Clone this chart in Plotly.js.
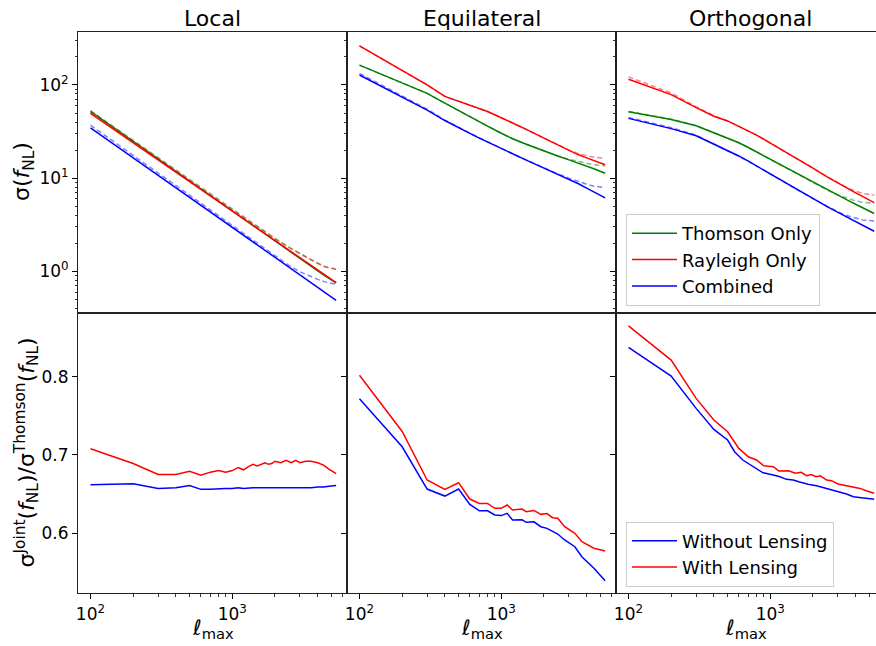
<!DOCTYPE html>
<html>
<head>
<meta charset="utf-8">
<script src="https://cdn.plot.ly/plotly-3.0.1.min.js"></script>
<style>html,body{margin:0;padding:0;background:#fff}#plot{width:876px;height:646px}</style>
</head>
<body>
<div id="plot"></div>
<script>
// ---------- data ----------
const topEll = [100,200,300,400,500,600,700,800,1000,1200,1500,2000,2500,3000,3500,4000,4500,5400];

const locThom  = [52, 24.8, 16.1, 11.8, 9.32, 7.67, 6.51, 5.64, 4.45, 3.66, 2.88, 2.12, 1.67, 1.376, 1.167, 1.01, 0.892, 0.75];
const locRay   = [49.6, 23.9, 15.6, 11.5, 9.09, 7.51, 6.38, 5.54, 4.38, 3.61, 2.86, 2.11, 1.67, 1.376, 1.17, 1.016, 0.899, 0.755];
const locComb  = [34.7, 16.5, 10.67, 7.83, 6.16, 5.07, 4.30, 3.72, 2.93, 2.41, 1.89, 1.39, 1.095, 0.90, 0.763, 0.661, 0.583, 0.489];
const locThomL = [53, 25.5, 16.6, 12.2, 9.6, 7.95, 6.75, 5.85, 4.62, 3.82, 3.02, 2.25, 1.82, 1.55, 1.36, 1.22, 1.12, 1.05];
const locRayL  = [51, 25, 16.3, 12.0, 9.45, 7.85, 6.67, 5.78, 4.57, 3.79, 3.0, 2.24, 1.81, 1.54, 1.355, 1.22, 1.12, 1.05];
const locCombL = [37, 17.5, 11.3, 8.3, 6.5, 5.36, 4.55, 3.94, 3.1, 2.55, 2.0, 1.45, 1.16, 0.99, 0.89, 0.82, 0.77, 0.726];

const eqThom  = [163, 105, 81.3, 63.8, 52.9, 45.7, 40.3, 36.2, 30.3, 26.5, 23.1, 19.5, 17.3, 15.7, 14.5, 13.4, 12.6, 11.3];
const eqRay   = [263, 143, 100, 75.3, 67, 61, 56.3, 51.9, 44.5, 39.3, 33.4, 26.9, 22.7, 19.9, 17.8, 16.5, 15.5, 13.9];
const eqComb  = [128, 74, 53.8, 41.5, 34.5, 30.2, 26.9, 24.4, 20.7, 18.2, 15.6, 12.8, 11.0, 9.75, 8.71, 7.82, 7.11, 6.13];
const eqThomL = [163, 105, 81.3, 63.8, 52.9, 45.7, 40.3, 36.2, 30.3, 26.5, 23.1, 19.5, 17.3, 15.9, 15.0, 14.3, 13.9, 13.6];
const eqRayL  = [263, 143, 100, 75.3, 67, 61, 56.3, 51.9, 44.5, 39.3, 33.4, 26.9, 22.7, 20.0, 18.3, 17.4, 16.8, 16.3];
const eqCombL = [133, 76, 55, 42, 34.8, 30.4, 27.1, 24.5, 20.8, 18.3, 15.7, 12.9, 11.1, 10.0, 9.2, 8.6, 8.2, 7.9];

const orThom  = [51.6, 42.6, 36.5, 30.7, 26.8, 24.0, 21.3, 19.1, 15.8, 13.6, 11.4, 9.0, 7.48, 6.52, 5.80, 5.24, 4.79, 4.17];
const orRay   = [115, 78.7, 57.2, 46.2, 41.1, 36.1, 32.2, 29.0, 23.8, 20.3, 16.6, 12.8, 10.4, 8.83, 7.71, 6.94, 6.32, 5.47];
const orComb  = [43.8, 34.0, 28.5, 23.2, 19.8, 17.3, 15.2, 13.5, 11.0, 9.38, 7.73, 6.03, 4.97, 4.29, 3.80, 3.42, 3.11, 2.69];
const orThomL = [52, 43, 36.8, 30.9, 26.9, 24.0, 21.3, 19.1, 15.8, 13.6, 11.4, 9.0, 7.5, 6.6, 6.05, 5.7, 5.5, 5.37];
const orRayL  = [122, 82, 58.5, 46.8, 41.1, 36.1, 32.2, 29.0, 23.8, 20.3, 16.6, 12.8, 10.4, 8.83, 7.85, 7.25, 6.85, 6.6];
const orCombL = [44.8, 34.8, 29, 23.4, 19.9, 17.3, 15.2, 13.5, 11.0, 9.38, 7.73, 6.03, 4.99, 4.35, 3.95, 3.7, 3.55, 3.47];

const locRatioEll = [100,200,300,400,500,600,700,800,900,1000,1100,1200,1300,1400,1500,1600,1700,1800,1900,2000,2200,2400,2600,2800,3000,3300,3600,4000,4400,4800,5400];
const locNoLens = [.662,.663,.657,.658,.661,.656,.656,.657,.657,.657,.658,.657,.658,.658,.658,.658,.658,.658,.658,.658,.658,.658,.658,.658,.658,.658,.658,.659,.659,.660,.661];
const locLens   = [.708,.689,.675,.675,.679,.674,.678,.680,.678,.680,.684,.681,.685,.688,.686,.688,.690,.688,.689,.692,.690,.693,.690,.693,.690,.692,.692,.690,.687,.682,.676];

const eqRatioEll = [100,200,300,400,500,600,700,800,900,1000,1100,1200,1400,1500,1700,1900,2100,2300,2500,2800,3300,3700,4500,5400];
const eqLens   = [.802,.730,.668,.656,.6645,.6436,.638,.638,.6317,.6317,.636,.6295,.6308,.6274,.629,.624,.625,.6197,.619,.6082,.5997,.589,.5806,.5771];
const eqNoLens = [.772,.7105,.6564,.6474,.6564,.6368,.6286,.6286,.6232,.6224,.6253,.6167,.617,.6138,.6145,.6082,.6061,.6018,.5988,.5912,.5826,.5698,.555,.5391];

const orLensEll = [100,200,300,400,500,600,700,800,900,1050,1150,1350,1500,1650,1800,1950,2100,2250,2500,2700,3000,3450,3850,4300,4750,5400];
const orLens    = [.8652,.8214,.7724,.7446,.7297,.7084,.6977,.6935,.6862,.6849,.6794,.6798,.6765,.6777,.6734,.675,.6721,.6734,.6679,.6671,.6628,.6606,.6593,.6572,.6542,.6509];
const orNoLensEll = [100,200,300,400,500,560,640,760,890,1050,1170,1300,1450,1610,1850,2120,2490,2930,3450,3850,4300,5400];
const orNoLens    = [.8376,.8009,.7596,.7327,.7191,.7041,.6935,.6849,.6772,.6743,.6721,.6688,.6679,.6653,.6624,.6606,.6572,.6538,.65,.6465,.6457,.6432];

const colTitles = ['Local', 'Equilateral', 'Orthogonal'];
const topNames = ['Thomson Only', 'Rayleigh Only', 'Combined'];
const botNames = ['Without Lensing', 'With Lensing'];

// ---------- styling / layout ----------
const W = 876, H = 646;
const fx = p => p / W, fy = p => 1 - p / H;
const GREEN = '#008000', RED = '#ff0000', BLUE = '#0000ff';
const FONT = 'DejaVu Sans, sans-serif';
const LW = 1.5;

const traces = [];
function solid(x, y, color, xa, ya, name, legend, show) {
  traces.push({x, y, type: 'scatter', mode: 'lines', xaxis: xa, yaxis: ya, name,
    line: {color, width: LW}, showlegend: !!show, legend: legend || 'legend', hoverinfo: 'skip'});
}
function dashed(x, y, color, xa, ya) {
  traces.push({x, y, type: 'scatter', mode: 'lines', xaxis: xa, yaxis: ya,
    line: {color, width: LW, dash: '5px,3px'}, opacity: 0.5, showlegend: false, hoverinfo: 'skip'});
}

const topSets = [
  [locThom, locRay, locComb, locThomL, locRayL, locCombL],
  [eqThom, eqRay, eqComb, eqThomL, eqRayL, eqCombL],
  [orThom, orRay, orComb, orThomL, orRayL, orCombL]
];
topSets.forEach((s, i) => {
  const xa = 'x' + (i + 1), ya = 'y' + (i + 1);
  const show = i === 2;
  solid(topEll, s[0], GREEN, xa, ya, topNames[0], 'legend', show);
  solid(topEll, s[1], RED, xa, ya, topNames[1], 'legend', show);
  solid(topEll, s[2], BLUE, xa, ya, topNames[2], 'legend', show);
  dashed(topEll, s[3], GREEN, xa, ya);
  dashed(topEll, s[4], RED, xa, ya);
  dashed(topEll, s[5], BLUE, xa, ya);
});
solid(locRatioEll, locNoLens, BLUE, 'x4', 'y4', botNames[0], 'legend2', false);
solid(locRatioEll, locLens, RED, 'x4', 'y4', botNames[1], 'legend2', false);
solid(eqRatioEll, eqNoLens, BLUE, 'x5', 'y5', botNames[0], 'legend2', false);
solid(eqRatioEll, eqLens, RED, 'x5', 'y5', botNames[1], 'legend2', false);
solid(orNoLensEll, orNoLens, BLUE, 'x6', 'y6', botNames[0], 'legend2', true);
solid(orLensEll, orLens, RED, 'x6', 'y6', botNames[1], 'legend2', true);

const colPx = [[78, 347], [347, 616], [616, 876]];
const XR = [1.912, 3.809];
const xRanges = [XR, XR, [1.912, 1.912 + 260 / 141.8]];
const yTopDom = [fy(312.7), fy(32.3)], yBotDom = [fy(593.3), fy(312.7)];
const tickFont = {family: FONT, size: 17, color: '#000'};
const xMinor = [200,300,400,500,600,700,800,900,2000,3000,4000,5000,6000];
const yMinor = [0.4,0.5,0.6,0.7,0.8,0.9,2,3,4,5,6,7,8,9,20,30,40,50,60,70,80,90,200,300];
const legFont = {family: FONT, size: 18, color: '#000'};

const layout = {
  width: W, height: H, margin: {l: 0, r: 0, t: 0, b: 0}, paper_bgcolor: '#fff', plot_bgcolor: '#fff',
  font: {family: FONT, color: '#000'},
  annotations: [],
  legend: {x: fx(626), y: fy(260), xanchor: 'left', yanchor: 'middle', bgcolor: 'rgba(255,255,255,0.85)',
    bordercolor: '#cccccc', borderwidth: 1, font: legFont, traceorder: 'normal', itemwidth: 45},
  legend2: {x: fx(626), y: fy(554), xanchor: 'left', yanchor: 'middle', bgcolor: 'rgba(255,255,255,0.85)',
    bordercolor: '#cccccc', borderwidth: 1, font: legFont, traceorder: 'normal', itemwidth: 45}
};

for (let c = 0; c < 3; c++) {
  const dom = [fx(colPx[c][0]), fx(colPx[c][1])];
  const common = {type: 'log', domain: dom, range: xRanges[c], showline: true, mirror: true, linecolor: '#222', linewidth: 1,
    showgrid: false, zeroline: false, automargin: false, fixedrange: true};
  layout['xaxis' + (c + 1)] = Object.assign({}, common, {anchor: 'y' + (c + 1), showticklabels: false, ticks: ''});
  layout['xaxis' + (c + 4)] = Object.assign({}, common, {anchor: 'y' + (c + 4), tickmode: 'array',
    tickvals: [100, 1000, 10000], ticktext: ['10<sup>2</sup>', '10<sup>3</sup>', '10<sup>4</sup>'],
    ticks: 'outside', ticklen: 5, tickwidth: 1, tickcolor: '#000', tickfont: tickFont,
    minor: {tickmode: 'array', tickvals: xMinor, ticks: 'outside', ticklen: 2.5, tickwidth: 0.8, tickcolor: '#000'}});
  layout['yaxis' + (c + 1)] = {type: 'log', domain: yTopDom, anchor: 'x' + (c + 1), range: [-0.444, 2.565],
    showline: true, mirror: true, linecolor: '#222', linewidth: 1, showgrid: false, zeroline: false, automargin: false, fixedrange: true,
    tickmode: 'array', tickvals: [1, 10, 100], ticktext: ['10<sup>0</sup>', '10<sup>1</sup>', '10<sup>2</sup>'],
    ticks: 'outside', ticklen: 5, tickwidth: 1, tickcolor: '#000', tickfont: tickFont, showticklabels: c === 0,
    minor: {tickmode: 'array', tickvals: yMinor, ticks: 'outside', ticklen: 2.5, tickwidth: 0.8, tickcolor: '#000'}};
  layout['yaxis' + (c + 4)] = {domain: yBotDom, anchor: 'x' + (c + 4), range: [0.523, 0.882],
    showline: true, mirror: true, linecolor: '#222', linewidth: 1, showgrid: false, zeroline: false, automargin: false, fixedrange: true,
    tickmode: 'array', tickvals: [0.6, 0.7, 0.8], ticktext: ['0.6', '0.7', '0.8'],
    ticks: 'outside', ticklen: 5, tickwidth: 1, tickcolor: '#000', tickfont: tickFont, showticklabels: c === 0};
}

const titleX = [212.5, 481.5, 750];
const xlabX = [212.5, 481.5, 746];
for (let c = 0; c < 3; c++) {
  layout.annotations.push({text: colTitles[c], xref: 'paper', yref: 'paper', x: fx(titleX[c]), y: fy(18.5),
    xanchor: 'center', yanchor: 'middle', showarrow: false, font: {family: FONT, size: 22, color: '#000'}});
  layout.annotations.push({text: '<i>ℓ</i><sub>max</sub>', xref: 'paper', yref: 'paper', x: fx(xlabX[c]), y: fy(629),
    xanchor: 'center', yanchor: 'middle', showarrow: false, borderpad: 0, font: {family: FONT, size: 21, color: '#000'}});
}
layout.annotations.push({text: 'σ(<i>f</i><sub>NL</sub>)', xref: 'paper', yref: 'paper', x: fx(24), y: fy(172),
  xanchor: 'center', yanchor: 'middle', textangle: -90, showarrow: false, font: {family: FONT, size: 22, color: '#000'}});
layout.annotations.push({text: 'σ<sup>Joint</sup>(<i>f</i><sub>NL</sub>)/σ<sup>Thomson</sup>(<i>f</i><sub>NL</sub>)', xref: 'paper', yref: 'paper',
  x: fx(26), y: fy(452.5), xanchor: 'center', yanchor: 'middle', textangle: -90, showarrow: false,
  font: {family: FONT, size: 22, color: '#000'}});

Plotly.newPlot('plot', traces, layout, {staticPlot: true, displayModeBar: false});
</script>
</body>
</html>
